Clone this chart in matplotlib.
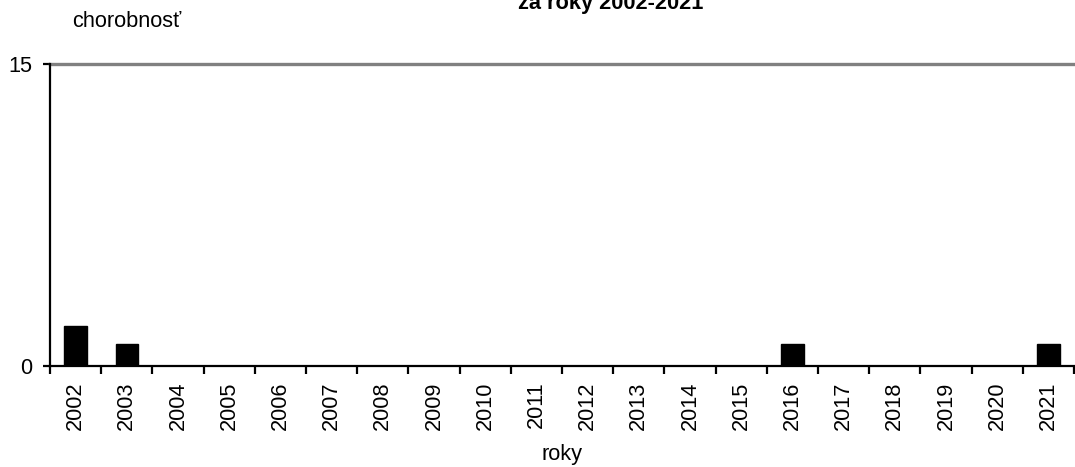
import numpy as np
import matplotlib
matplotlib.use("Agg")
import matplotlib.pyplot as plt

plt.rcParams['font.family'] = ['Liberation Sans', 'DejaVu Sans']

years = [str(y) for y in range(2002, 2022)]
values = [2.0, 1.1, 0, 0, 0, 0, 0, 0, 0, 0, 0, 0, 0, 0, 1.1, 0, 0, 0, 0, 1.1]
y_ticks = [0, 15]

fig = plt.figure(figsize=(10.75, 4.67), dpi=100)
ax = fig.add_axes([50 / 1075, 101 / 467, 1024 / 1075, 302 / 467])

x = np.arange(len(years))
ax.bar(x, values, width=0.44, color='black', edgecolor='black', linewidth=1, zorder=3)

ax.set_xlim(-0.5, len(years) - 0.5)
ax.set_ylim(0, 15)

# gray line at the top value
ax.axhline(15, color='#808080', linewidth=2.4, zorder=2, clip_on=False)

ax.spines['top'].set_visible(False)
ax.spines['right'].set_visible(False)
ax.spines['left'].set_linewidth(1.6)
ax.spines['bottom'].set_linewidth(1.6)

ax.set_yticks(y_ticks)
ax.set_yticklabels([str(v) for v in y_ticks], fontsize=15.7)
ax.tick_params(axis='y', length=5, width=1.6, pad=8)

ax.set_xticks(x)
ax.set_xticklabels(years, rotation=90, fontsize=15.7)
ax.tick_params(axis='x', which='major', length=0, pad=11)
ax.set_xticks(np.arange(-0.5, len(years), 1), minor=True)
ax.tick_params(axis='x', which='minor', length=6, width=1.6)

ax.set_xlabel('roky', fontsize=15.7, labelpad=10)

fig.text(127 / 1075, 1 - 27 / 467, 'chorobnosť', fontsize=15.7, ha='center', va='baseline')
# title sits partly above the top edge, as in the source image
fig.text(611 / 1075, 1 - 9 / 467, 'za roky 2002-2021', fontsize=15.7, fontweight='bold',
         ha='center', va='baseline')

fig.savefig('out.png', dpi=100)
